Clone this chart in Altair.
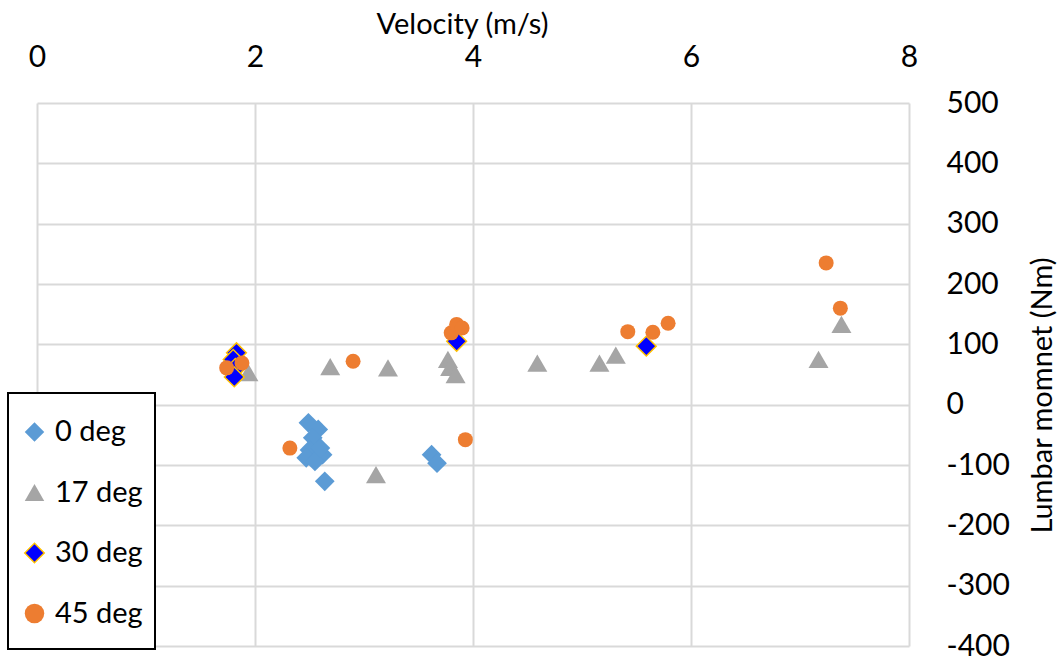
import altair as alt
import pandas as pd

FONT = "Lato"

# Series names, marker colours and shapes
series = ["0 deg", "17 deg", "30 deg", "45 deg"]
fills = ["#5B9BD5", "#A5A5A5", "#0000FF", "#ED7D31"]
outlines = ["transparent", "transparent", "#FFC000", "transparent"]
shapes = ["diamond", "triangle-up", "diamond", "circle"]
marker_area = {"0 deg": 390, "17 deg": 400, "30 deg": 390, "45 deg": 225}

# Velocity (m/s) and lumbar moment (Nm) for each series
vel_0 = [2.49, 2.58, 2.53, 2.50, 2.62, 2.47, 2.55, 2.60, 2.64, 3.62, 3.67]
mom_0 = [-30, -41, -55, -75, -83, -88, -94, -72, -127, -83, -97]

vel_17 = [1.94, 2.69, 3.22, 3.77, 3.79, 3.84, 4.59, 5.16, 5.31, 7.17, 7.38, 3.11]
mom_17 = [53, 63, 61, 75, 62, 50, 69, 69, 82, 75, 133, -116]

vel_30 = [1.83, 1.80, 1.82, 1.81, 3.85, 5.59]
mom_30 = [86, 75, 60, 46, 105, 97]

vel_45 = [1.74, 1.88, 2.32, 2.90, 3.80, 3.85, 3.90, 3.93, 5.42, 5.65, 5.79, 7.24, 7.37]
mom_45 = [61, 69, -72, 72, 119, 133, 127, -58, 121, 120, 135, 235, 160]

x_ticks = [0, 2, 4, 6, 8]
y_ticks = [-400, -300, -200, -100, 0, 100, 200, 300, 400, 500]

rows = []
for name, vs, ms in zip(series, [vel_0, vel_17, vel_30, vel_45], [mom_0, mom_17, mom_30, mom_45]):
    for v, m in zip(vs, ms):
        rows.append({"series": name, "velocity": v, "moment": m, "area": marker_area[name]})
df = pd.DataFrame(rows)

legend = alt.Legend(
    title=" ",
    titleFontSize=4,
    titlePadding=0,
    orient="none",
    legendX=-29,
    legendY=290,
    strokeColor="black",
    fillColor="white",
    padding=12,
    rowPadding=14.5,
    clipHeight=46,
    labelFont=FONT,
    labelFontSize=29,
    labelColor="black",
    labelOffset=6,
    symbolSize=380,
    symbolOpacity=1,
)

chart = (
    alt.Chart(df)
    .mark_point(filled=True, opacity=1, strokeWidth=1.5)
    .encode(
        x=alt.X(
            "velocity:Q",
            scale=alt.Scale(domain=[0, 8], nice=False, zero=False),
            axis=alt.Axis(
                orient="top",
                values=x_ticks,
                title="Velocity (m/s)",
                titleX=425,
                titleY=-79,
                titleAlign="center",
                titleBaseline="middle",
                labelBaseline="middle",
                labelPadding=46,
                labelFlush=False,
            ),
        ),
        y=alt.Y(
            "moment:Q",
            scale=alt.Scale(domain=[-400, 500], nice=False, zero=False),
            axis=alt.Axis(
                orient="right",
                values=y_ticks,
                title="Lumbar momnet (Nm)",
                titleAngle=270,
                titleX=133,
                titleY=292,
                titleAlign="center",
                titleBaseline="middle",
                labelAlign="left",
                labelBaseline="middle",
                labelPadding=37,
                labelFlush=False,
                labelExpr="'' + datum.value",
            ),
        ),
        color=alt.Color("series:N", scale=alt.Scale(domain=series, range=fills), legend=legend),
        shape=alt.Shape("series:N", scale=alt.Scale(domain=series, range=shapes), legend=legend),
        stroke=alt.Stroke("series:N", scale=alt.Scale(domain=series, range=outlines), legend=legend),
        size=alt.Size("area:Q", scale=None, legend=None),
    )
    .properties(
        width=872,
        height=543,
        autosize=alt.AutoSizeParams(type="none"),
        padding={"left": 37, "top": 103, "right": 151, "bottom": 12},
        background="white",
    )
    .configure_view(strokeWidth=0)
    .configure_axis(
        grid=True,
        gridColor="#D9D9D9",
        gridWidth=2,
        domain=False,
        ticks=False,
        tickSize=0,
        labelFont=FONT,
        labelFontSize=30,
        labelColor="black",
        titleFont=FONT,
        titleFontSize=29,
        titleFontWeight="normal",
        titleColor="black",
    )
    .configure_legend(strokeWidth=2)
)

chart.save("out.html", embed_options={"renderer": "svg", "actions": False})
